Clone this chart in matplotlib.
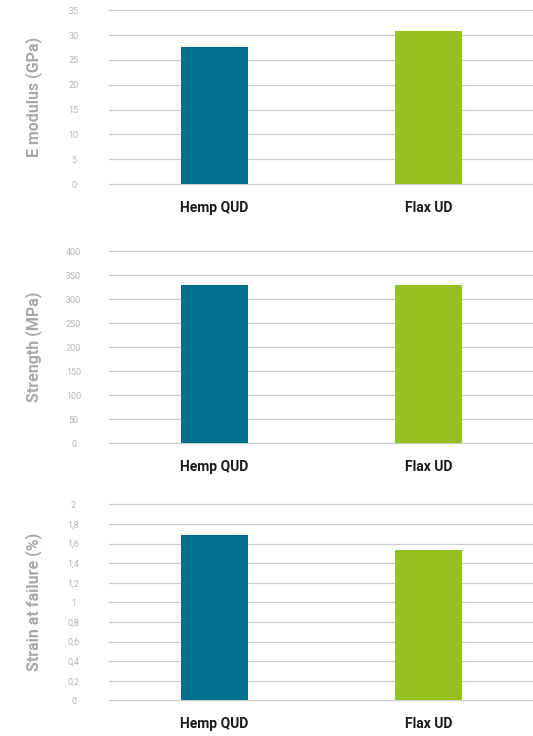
import numpy as np
import matplotlib.pyplot as plt

# data
materials = ['Hemp QUD', 'Flax UD']
bar_colors = ['#00708f', '#95c11f']

e_modulus = [27.6, 30.8]
strength = [330, 330]
strain = [1.69, 1.53]

panels = [
    (e_modulus, 'E modulus (GPa)', [0, 5, 10, 15, 20, 25, 30, 35], ['0', '5', '10', '15', '20', '25', '30', '35']),
    (strength, 'Strength (MPa)', [0, 50, 100, 150, 200, 250, 300, 350, 400],
     ['0', '50', '100', '150', '200', '250', '300', '350', '400']),
    (strain, 'Strain at failure (%)', [0, 0.2, 0.4, 0.6, 0.8, 1, 1.2, 1.4, 1.6, 1.8, 2],
     ['0', '0,2', '0,4', '0,6', '0,8', '1', '1,2', '1,4', '1,6', '1,8', '2']),
]

plt.rcParams['font.family'] = ['Roboto', 'DejaVu Sans']

fig = plt.figure(figsize=(5.33, 7.36), dpi=100)

# axes boxes (left, bottom, width, height) in figure fractions
boxes = [
    (0.2045, 0.750, 0.7955, 0.236),
    (0.2045, 0.3977, 0.7955, 0.2609),
    (0.2045, 0.0485, 0.7955, 0.2663),
]

for (vals, label, ticks, ticklabels), box in zip(panels, boxes):
    ax = fig.add_axes(box)
    x = np.arange(len(materials))
    ax.bar(x, vals, width=0.313, color=bar_colors, zorder=3)
    ax.set_xlim(-0.493, 1.488)
    ax.set_ylim(0, ticks[-1])
    ax.set_yticks(ticks)
    ax.set_yticklabels(ticklabels, ha='center', fontsize=6.5, color='#b4b4b4')
    ax.set_xticks(x)
    ax.set_xticklabels(materials, fontsize=10, fontweight='bold', color='#1a1a1a')
    ax.tick_params(axis='y', length=0, pad=25.5)
    ax.tick_params(axis='x', length=0, pad=12)
    ax.grid(axis='y', color='#cccccc', linewidth=0.9, zorder=0)
    for gl in ax.get_ygridlines():
        gl.set_clip_on(False)
    for s in ax.spines.values():
        s.set_visible(False)
    ax.set_ylabel(label, fontsize=11.5, fontweight='bold', color='#a8a8a8')
    ax.yaxis.set_label_coords(-0.158, 0.5)

fig.savefig('out.png', dpi=100)
